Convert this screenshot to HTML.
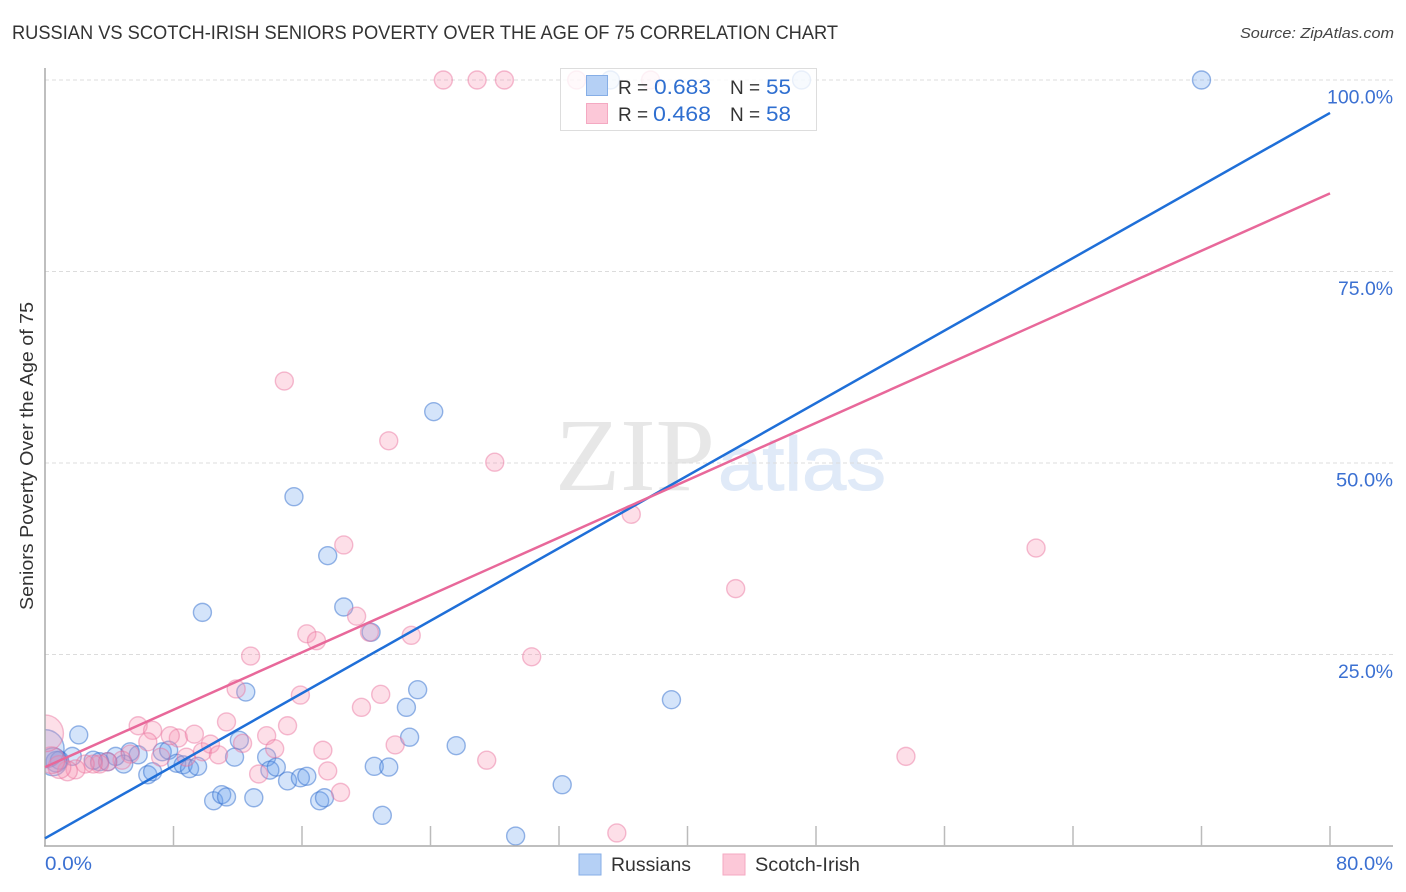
<!DOCTYPE html>
<html lang="en">
<head>
<meta charset="utf-8">
<title>Russian vs Scotch-Irish Seniors Poverty Correlation Chart</title>
<style>
  html, body { margin: 0; padding: 0; background: #fff; }
  svg { display: block; font-family: "Liberation Sans", sans-serif; }
</style>
</head>
<body>
<svg id="chart" xmlns="http://www.w3.org/2000/svg" width="1406" height="892" viewBox="0 0 1406 892">
  <rect width="1406" height="892" fill="#fff"></rect>
  <text x="12" y="39" font-size="19" fill="#333" textLength="826" lengthAdjust="spacingAndGlyphs">RUSSIAN VS SCOTCH-IRISH SENIORS POVERTY OVER THE AGE OF 75 CORRELATION CHART</text>
  <text x="1394" y="38" font-size="15" font-style="italic" fill="#444" text-anchor="end" textLength="154" lengthAdjust="spacingAndGlyphs">Source: ZipAtlas.com</text>
  <g>
    <text x="555" y="490" font-family="Liberation Serif, serif" font-size="104" fill="#e7e7e7" textLength="160" lengthAdjust="spacingAndGlyphs">ZIP</text>
    <text x="718" y="490" font-family="Liberation Sans, sans-serif" font-size="76" fill="#e0eaf8" stroke="#e0eaf8" stroke-width="1" textLength="168" lengthAdjust="spacingAndGlyphs">atlas</text>
  </g>
  <g id="grid"></g>
  <g id="points"></g>
  <rect x="0" y="60" width="45" height="800" fill="#fff"></rect>
  <text transform="translate(33,456) rotate(-90)" font-size="18.5" fill="#333" text-anchor="middle" textLength="308" lengthAdjust="spacingAndGlyphs">Seniors Poverty Over the Age of 75</text>
  <g id="axes"></g>
  <g id="trends"></g>
  <g id="labels"></g>

  <g>
    <rect x="560.5" y="68.5" width="256" height="62" fill="#fff" fill-opacity="0.8" stroke="#ddd"></rect>
    <rect x="586.5" y="75.5" width="21" height="20" fill="#b5d0f5" stroke="#86aee6"></rect>
    <rect x="586.5" y="103.5" width="21" height="20" fill="#fcc8d8" stroke="#f4a9c2"></rect>
    <text x="618" y="94" font-size="19" fill="#333">R =</text>
    <text x="654" y="94" font-size="21" fill="#2f6fd0" textLength="57" lengthAdjust="spacingAndGlyphs">0.683</text>
    <text x="730" y="94" font-size="19" fill="#333">N =</text>
    <text x="766" y="94" font-size="21" fill="#2f6fd0" textLength="25" lengthAdjust="spacingAndGlyphs">55</text>
    <text x="618" y="121" font-size="19" fill="#333">R =</text>
    <text x="653" y="121" font-size="21" fill="#2f6fd0" textLength="58" lengthAdjust="spacingAndGlyphs">0.468</text>
    <text x="730" y="121" font-size="19" fill="#333">N =</text>
    <text x="766" y="121" font-size="21" fill="#2f6fd0" textLength="25" lengthAdjust="spacingAndGlyphs">58</text>
  </g>

  <g>
    <rect x="579" y="854" width="22" height="21" fill="#b5d0f5" stroke="#86aee6"></rect>
    <text x="611" y="871" font-size="19" fill="#333" textLength="80" lengthAdjust="spacingAndGlyphs">Russians</text>
    <rect x="723" y="854" width="22" height="21" fill="#fcc8d8" stroke="#f4a9c2"></rect>
    <text x="755" y="871" font-size="19" fill="#333" textLength="105" lengthAdjust="spacingAndGlyphs">Scotch-Irish</text>
  </g>
</svg>

<script>
const xTickValues = [0, 8, 16, 24, 32, 40, 48, 56, 64, 72, 80];
const yGridValues = [25, 50, 75, 100];
const yTickLabels = ["25.0%", "50.0%", "75.0%", "100.0%"];
const xEndLabels = ["0.0%", "80.0%"];
const xEndValues = [0, 80];

const russiansX = [72, 47.1, 35.2, 24.2, 15.5, 17.6, 9.8, 18.6, 20.3, 12.5, 23.2, 22.5, 39, 22.7, 25.6, 2.1, 12.1, 32.2, 21, 29.3, 20.5, 21.4, 11.8, 13.8, 14, 14.4, 15.1, 15.9, 16.3, 17.1, 17.4, 13, 10.5, 11, 11.3, 6.4, 6.7, 7.3, 7.7, 8.2, 8.6, 9, 9.5, 5.8, 5.3, 4.9, 4.4, 3.9, 3.4, 3, 1.7, 0.9, 0.7, 0, 0.5];
const russiansY = [100, 100, 100, 56.7, 45.6, 37.9, 30.5, 31.2, 27.9, 20.1, 20.4, 18.1, 19.1, 14.2, 13.1, 14.5, 13.8, 8, 4, 1.3, 10.4, 10.3, 11.6, 11.6, 9.9, 10.3, 8.5, 8.9, 9.1, 5.9, 6.3, 6.3, 5.9, 6.7, 6.4, 9.3, 9.7, 12.3, 12.5, 10.8, 10.6, 10.1, 10.4, 11.9, 12.3, 10.7, 11.7, 11, 11, 11.2, 11.7, 11.2, 11, 12.7, 11];
const russiansWeight = [1, 1, 1, 1, 1, 1, 1, 1, 1, 1, 1, 1, 1, 1, 1, 1, 1, 1, 1, 1, 1, 1, 1, 1, 1, 1, 1, 1, 1, 1, 1, 1, 1, 1, 1, 1, 1, 1, 1, 1, 1, 1, 1, 1, 1, 1, 1, 1, 1, 1, 1, 1, 1.3, 4.5, 2.4];

const scotchIrishX = [24.8, 26.9, 28.6, 33.1, 37.7, 14.9, 21.4, 28, 36.5, 61.7, 18.6, 43, 19.4, 16.3, 16.9, 22.8, 20.2, 30.3, 12.8, 11.9, 15.9, 20.9, 19.7, 11.3, 15.1, 5.8, 6.7, 8.3, 9.3, 7.8, 12.3, 13.8, 14.3, 17.3, 21.8, 27.5, 53.6, 17.6, 13.3, 18.4, 35.6, 6.4, 7.2, 8.8, 9.8, 10.3, 10.8, 5.3, 4.8, 3.9, 3.4, 3, 2.5, 1.9, 1.4, 0.9, 0.4, 0];
const scotchIrishY = [100, 100, 100, 100, 100, 60.7, 52.9, 50.1, 43.3, 38.9, 39.3, 33.6, 30, 27.7, 26.8, 27.5, 27.9, 24.7, 24.8, 20.5, 19.7, 19.8, 18.1, 16.2, 15.7, 15.7, 15.1, 14.1, 14.6, 14.4, 13.4, 14.4, 12.7, 12.5, 13.2, 11.2, 11.7, 9.8, 9.4, 7, 1.7, 13.6, 11.6, 11.6, 12.3, 13.3, 11.9, 12, 11.2, 11, 10.7, 10.7, 10.7, 10, 9.8, 10.3, 11.2, 14.7];
const scotchIrishWeight = [1, 1, 1, 1, 1, 1, 1, 1, 1, 1, 1, 1, 1, 1, 1, 1, 1, 1, 1, 1, 1, 1, 1, 1, 1, 1, 1, 1, 1, 1, 1, 1, 1, 1, 1, 1, 1, 1, 1, 1, 1, 1, 1, 1, 1, 1, 1, 1, 1, 1, 1, 1, 1, 1.1, 1.2, 1.6, 2.2, 4.2];

const trendXDomain = [0, 80];
const russiansTrendY = [1, 95.7];
const scotchIrishTrendY = [10.3, 85.2];

const NS = 'http://www.w3.org/2000/svg';
const xScale = v => 45 + v * (1285 / 80);
const yScale = v => 846 - v * 7.66;
const radiusOf = w => 9 * Math.sqrt(w);

function make(tag, attrs, parent) {
  const el = document.createElementNS(NS, tag);
  for (const k in attrs) el.setAttribute(k, attrs[k]);
  parent.appendChild(el);
  return el;
}

const gridG = document.getElementById('grid');
const axesG = document.getElementById('axes');
const pointsG = document.getElementById('points');
const trendsG = document.getElementById('trends');
const labelsG = document.getElementById('labels');

const tickCharWidth = { "25.0%": 55, "50.0%": 57, "75.0%": 55, "100.0%": 66, "0.0%": 47, "80.0%": 57 };

yGridValues.forEach((v, i) => {
  const gl = make('line', { x1: 45, x2: 1393, y1: yScale(v), y2: yScale(v), stroke: '#dcdcdc', 'stroke-width': 1, 'stroke-dasharray': '4 3' }, gridG);
  
  
  const t = make('text', { x: 1393, y: yScale(v) + 23.5, 'font-size': 19, fill: '#3b70d2', 'text-anchor': 'end', textLength: tickCharWidth[yTickLabels[i]], lengthAdjust: 'spacingAndGlyphs' }, labelsG);
  t.textContent = yTickLabels[i];
  
  
});

xEndValues.forEach((v, i) => {
  const t = make('text', { x: i === 0 ? xScale(v) : 1393, y: 870, 'font-size': 19, fill: '#3b70d2', 'text-anchor': i === 0 ? 'start' : 'end', textLength: tickCharWidth[xEndLabels[i]], lengthAdjust: 'spacingAndGlyphs' }, labelsG);
  t.textContent = xEndLabels[i];
  
  
});

const yAxis = make('line', { x1: 45, x2: 45, y1: 68, y2: 846, stroke: '#aaa', 'stroke-width': 1.5 }, axesG);


const xAxis = make('line', { x1: 44, x2: 1393, y1: 846, y2: 846, stroke: '#aaa', 'stroke-width': 1.5 }, axesG);



xTickValues.slice(1).forEach(v => {
  const tk = make('line', { x1: xScale(v), x2: xScale(v), y1: 826, y2: 846, stroke: '#bbb', 'stroke-width': 1.5 }, axesG);
  
  
});

russiansX.forEach((x, i) => {
  const c = make('circle', { cx: xScale(x), cy: yScale(russiansY[i]), r: radiusOf(russiansWeight[i]), fill: 'rgba(96,156,236,0.27)', stroke: 'rgba(50,110,205,0.5)', 'stroke-width': 1.4 }, pointsG);
  
  
});

scotchIrishX.forEach((x, i) => {
  const c = make('circle', { cx: xScale(x), cy: yScale(scotchIrishY[i]), r: radiusOf(scotchIrishWeight[i]), fill: 'rgba(248,150,180,0.3)', stroke: 'rgba(232,110,155,0.45)', 'stroke-width': 1.4 }, pointsG);
  
  
});

const russiansTrend = make('line', { x1: xScale(trendXDomain[0]), x2: xScale(trendXDomain[1]), y1: yScale(russiansTrendY[0]), y2: yScale(russiansTrendY[1]), stroke: '#1f6fd8', 'stroke-width': 2.5 }, trendsG);


const scotchTrend = make('line', { x1: xScale(trendXDomain[0]), x2: xScale(trendXDomain[1]), y1: yScale(scotchIrishTrendY[0]), y2: yScale(scotchIrishTrendY[1]), stroke: '#e8689a', 'stroke-width': 2.5 }, trendsG);


</script>
</body>
</html>
